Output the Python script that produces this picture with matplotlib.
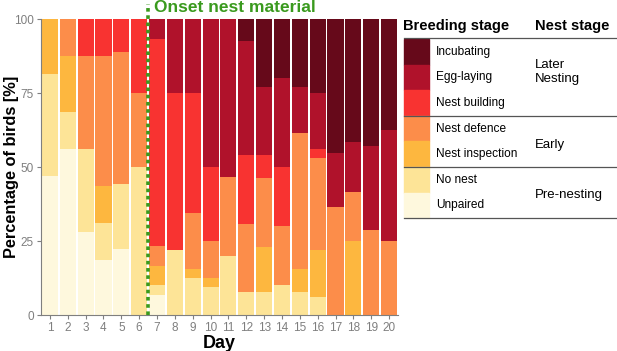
import numpy as np
import matplotlib
matplotlib.use('Agg')
import matplotlib.pyplot as plt
from matplotlib.patches import Rectangle
from matplotlib.lines import Line2D

plt.rcParams['font.family'] = ['Liberation Sans', 'DejaVu Sans']

# data: percentage of birds per breeding stage, days 1-20
days = list(range(1, 21))
stages = ['Unpaired', 'No nest', 'Nest inspection', 'Nest defence',
          'Nest building', 'Egg-laying', 'Incubating']
colors = ['#FEF8DD', '#FDE497', '#FDB73F', '#FC8D4A',
          '#F83331', '#B0122B', '#66091A']

unpaired = [46.9, 56.25, 28.1, 18.75, 22.2, 0, 6.7, 0, 0, 0,
            0, 0, 0, 0, 0, 0, 0, 0, 0, 0]
no_nest = [34.4, 12.5, 28.1, 12.5, 22.2, 50, 3.3, 21.9, 12.5, 9.4,
           20, 7.7, 7.7, 10, 7.7, 6.25, 0, 0, 0, 0]
inspection = [18.7, 18.75, 0, 12.5, 0, 0, 6.7, 0, 3.1, 3.1,
              0, 0, 15.4, 0, 7.7, 15.6, 0, 25, 0, 0]
defence = [0, 12.5, 31.3, 43.75, 44.4, 25, 6.7, 0, 18.75, 12.5,
           26.7, 23.1, 23.1, 20, 46.2, 31.25, 36.4, 16.7, 28.6, 25]
building = [0, 0, 12.5, 12.5, 11.2, 25, 70, 53.1, 40.6, 25,
            0, 23.1, 7.7, 20, 0, 3.1, 0, 0, 0, 0]
egg_laying = [0, 0, 0, 0, 0, 0, 6.6, 25, 25.05, 50,
              53.3, 38.5, 23.1, 30, 15.4, 18.75, 18.2, 16.7, 28.6, 37.5]
incubating = [0, 0, 0, 0, 0, 0, 0, 0, 0, 0,
              0, 7.6, 22.9, 20, 22.9, 25.05, 45.4, 41.6, 42.8, 37.5]

series = [unpaired, no_nest, inspection, defence, building, egg_laying, incubating]

nest_groups = ['Later\nNesting', 'Early', 'Pre-nesting']

W, H = 617, 351
fig = plt.figure(figsize=(W / 100, H / 100), dpi=100)

def fx(px):
    return px / W

def fy(py):
    return 1 - py / H

ax = fig.add_axes([fx(41), fy(315), fx(398) - fx(41), fy(19) - fy(315)])

bottom = np.zeros(len(days))
for vals, c in zip(series, colors):
    ax.bar(days, vals, bottom=bottom, width=0.9, color=c, edgecolor='none')
    bottom += np.array(vals)

ax.set_xlim(0.5, 20.5)
ax.set_ylim(0, 100)
ax.set_xticks(days)
ax.set_yticks([0, 25, 50, 75, 100])
for s in ['top', 'right']:
    ax.spines[s].set_visible(False)
for s in ['left', 'bottom']:
    ax.spines[s].set_color('#7f7f7f')
ax.tick_params(colors='#7f7f7f', labelsize=8.5, length=3, pad=2)
ax.set_xlabel('Day', fontsize=13, fontweight='bold', labelpad=1)
ax.set_ylabel('Percentage of birds [%]', fontsize=11.8, fontweight='bold', va='center')
ax.yaxis.set_label_coords(-0.083, 0.5)

# onset of nest material
ax.plot([6.5, 6.5], [0, 105], color='#3A9A1E', lw=2.6, ls=(0, (1, 1)),
        clip_on=False, zorder=5)
ax.text(6.85, 104, 'Onset nest material', color='#3A9A1E', fontsize=12.5,
        fontweight='bold', va='center', ha='left', clip_on=False)

# legend table
fig.text(fx(403), fy(26), 'Breeding stage', fontsize=10.5, fontweight='bold', va='center')
fig.text(fx(535), fy(26), 'Nest stage', fontsize=10.5, fontweight='bold', va='center')

row_h = 25.6
top = 39
for i, (name, c) in enumerate(zip(stages[::-1], colors[::-1])):
    y0 = top + i * row_h
    fig.add_artist(Rectangle((fx(404), fy(y0 + row_h)), fx(429) - fx(404),
                             row_h / H, color=c, transform=fig.transFigure))
    fig.text(fx(436), fy(y0 + row_h / 2), name, fontsize=8.6, va='center')

for py in [38, 116, 167, 218]:
    fig.add_artist(Line2D([fx(404), fx(617)], [fy(py), fy(py)], color='#555555',
                          lw=0.9, transform=fig.transFigure))

group_y = [72, 145, 195]
for name, py in zip(nest_groups, group_y):
    fig.text(fx(535), fy(py), name, fontsize=9.5, va='center', linespacing=1.25)

fig.savefig('out.png', dpi=100)
